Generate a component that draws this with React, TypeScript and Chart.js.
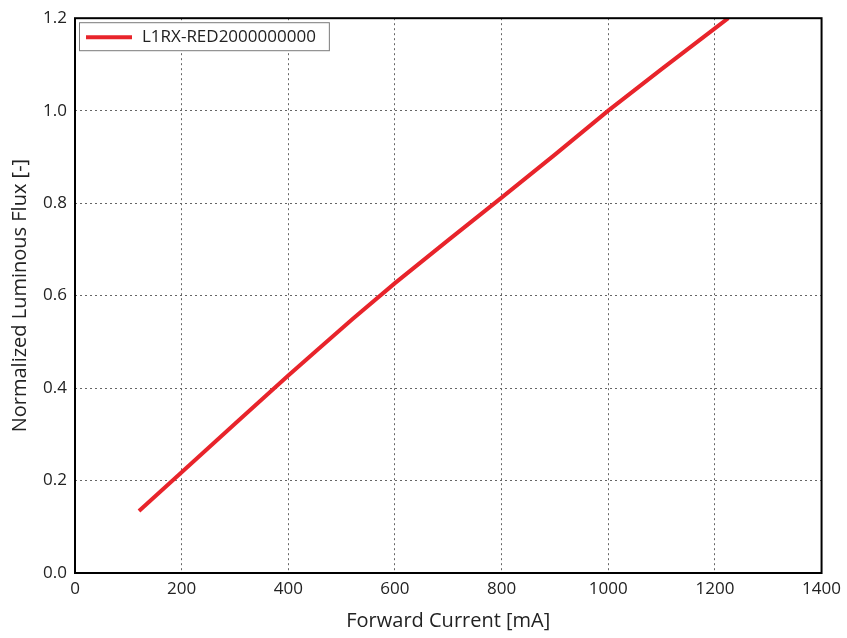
import React, { useEffect, useRef } from "react";
import { Chart, registerables } from "chart.js";

Chart.register(...registerables);

const seriesLabel = "L1RX-RED2000000000";
const currents = [120, 200, 300, 400, 450, 520, 600, 700, 800, 900, 1000, 1100, 1200, 1225];
const flux = [0.134, 0.218, 0.323, 0.427, 0.478, 0.549, 0.627, 0.72, 0.812, 0.905, 1.0, 1.09, 1.178, 1.2];
const xTitle = "Forward Current [mA]";
const yTitle = "Normalized Luminous Flux [-]";

const FONT = "'Open Sans', 'Noto Sans', sans-serif";

const framePlugin = {
  id: "frameAndLegend",
  afterDraw(chart: any) {
    const { ctx, chartArea } = chart;
    ctx.save();
    ctx.strokeStyle = "#000";
    ctx.lineWidth = 2;
    ctx.strokeRect(chartArea.left, chartArea.top, chartArea.right - chartArea.left, chartArea.bottom - chartArea.top);
    const ds = chart.data.datasets[0];
    ctx.font = `17px ${FONT}`;
    const tw = ctx.measureText(ds.label).width;
    const bx = chartArea.left + 4;
    const by = chartArea.top + 4;
    const bw = 66 + tw + 10;
    const bh = 28;
    ctx.fillStyle = "#fff";
    ctx.fillRect(bx, by, bw, bh);
    ctx.strokeStyle = "#7a7a7a";
    ctx.lineWidth = 1;
    ctx.strokeRect(bx + 0.5, by + 0.5, bw, bh);
    ctx.strokeStyle = ds.borderColor;
    ctx.lineWidth = 4;
    ctx.beginPath();
    ctx.moveTo(bx + 7, by + bh / 2 + 1);
    ctx.lineTo(bx + 53, by + bh / 2 + 1);
    ctx.stroke();
    ctx.fillStyle = "#222";
    ctx.textBaseline = "middle";
    ctx.textAlign = "left";
    ctx.fillText(ds.label, bx + 63, by + bh / 2 + 1);
    ctx.restore();
  },
};

export default function App() {
  const ref = useRef<HTMLCanvasElement>(null);
  useEffect(() => {
    if (!ref.current) return;
    const chart = new Chart(ref.current, {
      type: "line",
      data: {
        datasets: [
          {
            label: seriesLabel,
            data: currents.map((c, i) => ({ x: c, y: flux[i] })),
            borderColor: "#e8242b",
            borderWidth: 4,
            pointRadius: 0,
            tension: 0,
            fill: false,
          },
        ],
      },
      options: {
        animation: false,
        responsive: false,
        layout: { padding: { top: 17, right: 24, left: 0, bottom: 0 } },
        plugins: { legend: { display: false }, tooltip: { enabled: false } },
        scales: {
          x: {
            type: "linear",
            min: 0,
            max: 1400,
            afterFit: (s: any) => { s.height = 65; },
            border: { display: false, dash: [2, 3] },
            grid: { color: "#666", lineWidth: 1, drawTicks: false },
            ticks: { stepSize: 200, color: "#222", font: { family: FONT, size: 17 }, padding: 6, callback: (v: any) => String(v) },
            title: { display: true, text: xTitle, color: "#222", font: { family: FONT, size: 20 }, padding: { top: 4, bottom: 5 } },
          },
          y: {
            type: "linear",
            min: 0,
            max: 1.2,
            afterFit: (s: any) => { s.width = 75; },
            border: { display: false, dash: [2, 3] },
            grid: { color: "#666", lineWidth: 1, drawTicks: false },
            ticks: { stepSize: 0.2, color: "#222", font: { family: FONT, size: 17 }, padding: 8, callback: (v: any) => Number(v).toFixed(1) },
            title: { display: true, text: yTitle, color: "#222", font: { family: FONT, size: 20 }, padding: { top: 8, bottom: 2 } },
          },
        },
      },
      plugins: [framePlugin],
    } as any);
    return () => chart.destroy();
  }, []);
  return (
    <div style={{ position: "fixed", left: 0, top: 0, width: 847, height: 638, background: "#fff" }}>
      <canvas ref={ref} width={847} height={638} />
    </div>
  );
}
